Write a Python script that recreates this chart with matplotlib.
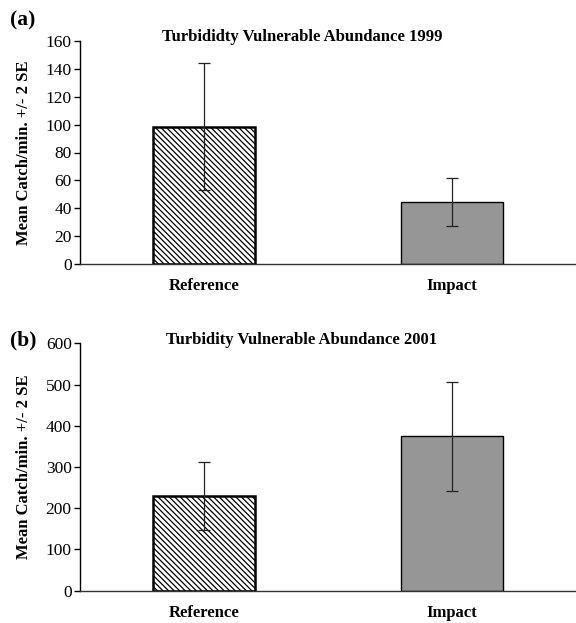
import matplotlib
matplotlib.use("Agg")
import matplotlib.pyplot as plt

plt.rcParams['font.family'] = ['Liberation Serif', 'DejaVu Serif']
plt.rcParams['hatch.linewidth'] = 0.9

categories = ["Reference", "Impact"]
means_1999 = [98.5, 44.3]
err_1999 = [45.5, 17.2]
means_2001 = [230, 375]
err_2001 = [83, 132]
titles = ["Turbididty Vulnerable Abundance 1999", "Turbidity Vulnerable Abundance 2001"]
panel_labels = ["(a)", "(b)"]
ylims = [(0, 160), (0, 600)]
yticks = [list(range(0, 161, 20)), list(range(0, 601, 100))]
ylabel = "Mean Catch/min. +/- 2 SE"

W, H = 576, 623
fig = plt.figure(figsize=(W / 100, H / 100), dpi=100)

# axes rectangles in pixels: left, top, right, bottom
rects = [(80, 41, 576, 264), (80, 343.3, 576, 590.7)]
data = [(means_1999, err_1999), (means_2001, err_2001)]
title_y = [37, 340]
label_y = [20, 340]

for i, (l, t, r, b) in enumerate(rects):
    ax = fig.add_axes([l / W, 1 - b / H, (r - l) / W, (b - t) / H])
    means, errs = data[i]
    x = [0.5, 1.5]
    ax.bar(x[0], means[0], width=0.41, color='white', edgecolor='black',
           linewidth=1.8, hatch='\\\\\\\\\\\\', zorder=2)
    ax.bar(x[1], means[1], width=0.41, color='#969696', edgecolor='black',
           linewidth=1.0, zorder=2)
    ax.errorbar(x, means, yerr=errs, fmt='none', ecolor='#222222',
                elinewidth=0.9, capsize=4, capthick=0.9, zorder=3)
    ax.set_xlim(0, 2)
    ax.set_ylim(*ylims[i])
    ax.set_yticks(yticks[i])
    ax.set_xticks(x)
    ax.set_xticklabels(categories, fontweight='bold', fontsize=12)
    ax.tick_params(axis='x', length=0, pad=10)
    ax.tick_params(axis='y', direction='out', length=4, width=1, labelsize=12.5, pad=2)
    for s in ['top', 'right']:
        ax.spines[s].set_visible(False)
    ax.spines['left'].set_linewidth(1.0)
    ax.spines['bottom'].set_linewidth(1.0)
    ax.spines['bottom'].set_color('#333333')
    ax.set_ylabel(ylabel, fontweight='bold', fontsize=12)
    ax.yaxis.set_label_coords(-(80 - 32) / (r - l), 0.5)
    fig.text(302 / W, 1 - title_y[i] / H, titles[i], ha='center', va='center',
             fontweight='bold', fontsize=12)
    fig.text(10 / W, 1 - label_y[i] / H, panel_labels[i], ha='left', va='center',
             fontweight='bold', fontsize=15.5)

fig.savefig("out.png", dpi=100)
